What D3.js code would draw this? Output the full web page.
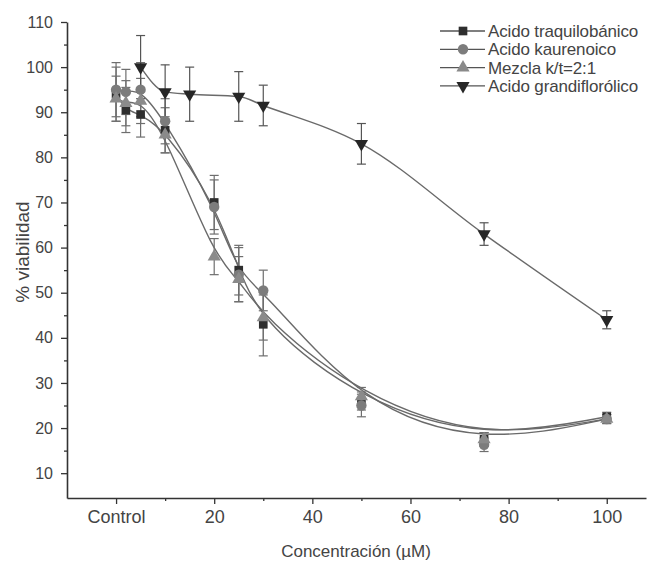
<!DOCTYPE html>
<html>
<head>
<meta charset="utf-8">
<script src="https://cdn.jsdelivr.net/npm/d3@7"></script>
<style>
  body { margin: 0; background: #fff; }
  #visualization { width: 649px; height: 565px; }
  text { font-family: "Liberation Sans", Arial, sans-serif; fill: #444; }
</style>
</head>
<body>
<div id="visualization"></div>
<script>
// Concentrations (0 = Control)
const concA = [0, 2, 5, 10, 20, 25, 30, 50, 75, 100];
const concG = [5, 10, 15, 25, 30, 50, 75, 100];

// % viability and error bars
const traquilobanico = [94, 90.5, 89.5, 86, 70, 55, 43, 26, 17.5, 22.5];
const traquilobanicoErr = [6, 5, 5, 5, 6, 5.5, 7, 2, 1.5, 1];
const kaurenoico = [95, 94.5, 95, 88, 69, 54, 50.5, 25, 16.3, 22];
const kaurenoicoErr = [6, 5, 6, 5, 6, 6, 4.5, 2.5, 1.5, 1];
const mezcla = [93, 92, 92.5, 85, 58, 53, 44.5, 27, 17.5, 22];
const mezclaErr = [5, 5, 5, 4, 4, 5, 5, 2, 1.5, 1];
const grandiflorolico = [100, 94.5, 94, 93.5, 91.5, 83, 63, 44];
const grandiflorolicoErr = [7, 6, 6, 5.5, 4.5, 4.5, 2.5, 2];

const xMajor = [0, 20, 40, 60, 80, 100];
const xMinor = [10, 30, 50, 70, 90];
const yMajor = [10, 20, 30, 40, 50, 60, 70, 80, 90, 100, 110];
const yMinor = [15, 25, 35, 45, 55, 65, 75, 85, 95, 105];

const seriesNames = ['Acido traquilobánico', 'Acido kaurenoico', 'Mezcla k/t=2:1', 'Acido grandiflorólico'];

const width = 649;
const height = 565;

const svg = d3.select('#visualization')
  .append('svg')
  .attr('width', width)
  .attr('height', height);

const x = d3.scaleLinear().domain([-10, 108]).range([67, 646]);
const y = d3.scaleLinear().domain([4.5, 110]).range([498, 22]);

const series = [
  { name: seriesNames[0], xs: concA, vals: traquilobanico, err: traquilobanicoErr, shape: 'square', color: '#2e2e2e', curve: d3.curveBasis },
  { name: seriesNames[1], xs: concA, vals: kaurenoico, err: kaurenoicoErr, shape: 'circle', color: '#7c7c7c', curve: d3.curveBasis },
  { name: seriesNames[2], xs: concA, vals: mezcla, err: mezclaErr, shape: 'triangle', color: '#8a8a8a', curve: d3.curveBasis },
  { name: seriesNames[3], xs: concG, vals: grandiflorolico, err: grandiflorolicoErr, shape: 'down', color: '#262626', curve: d3.curveMonotoneX }
];

function markerPath(shape) {
  if (shape === 'square') return d3.symbol(d3.symbolSquare, 75)();
  if (shape === 'circle') return d3.symbol(d3.symbolCircle, 85)();
  return d3.symbol(d3.symbolTriangle, 75)();
}

function drawMarker(g, shape, color, cx, cy) {
  g.append('path')
    .attr('d', markerPath(shape))
    .attr('transform', `translate(${cx},${cy})` + (shape === 'down' ? ' rotate(180)' : ''))
    .attr('fill', color);
}

// Axes
const xAxis = svg.append('g')
  .attr('transform', `translate(0,${y(4.5)})`)
  .call(d3.axisBottom(x).tickValues(xMajor).tickSize(6).tickSizeOuter(0).tickPadding(6)
    .tickFormat(d => d === 0 ? 'Control' : d));
xAxis.append('g')
  .call(d3.axisBottom(x).tickValues(xMinor).tickSize(3).tickFormat(''))
  .select('.domain').remove();

const yAxis = svg.append('g')
  .attr('transform', `translate(${x(-10)},0)`)
  .call(d3.axisLeft(y).tickValues(yMajor).tickSize(6).tickSizeOuter(0).tickPadding(8));
yAxis.append('g')
  .call(d3.axisLeft(y).tickValues(yMinor).tickSize(3).tickFormat(''))
  .select('.domain').remove();

svg.selectAll('.domain').attr('stroke', '#333').attr('stroke-width', 1.6);
svg.selectAll('.tick line').attr('stroke', '#333').attr('stroke-width', 1.3);
xAxis.selectAll('.tick text').style('font-size', '18px').style('fill', '#444');
yAxis.selectAll('.tick text').style('font-size', '16px').style('fill', '#444');

svg.append('text')
  .attr('x', 356)
  .attr('y', 557)
  .attr('text-anchor', 'middle')
  .style('font-size', '17px')
  .text('Concentración (µM)');

svg.append('text')
  .attr('transform', `translate(29,252) rotate(-90)`)
  .attr('text-anchor', 'middle')
  .style('font-size', '19px')
  .text('% viabilidad');

// Curves
const plot = svg.append('g');
series.forEach(s => {
  const pts = s.xs.map((c, i) => [c, s.vals[i]]);
  plot.append('path')
    .datum(pts)
    .attr('fill', 'none')
    .attr('stroke', '#6a6a6a')
    .attr('stroke-width', 1.4)
    .attr('d', d3.line().x(d => x(d[0])).y(d => y(d[1])).curve(s.curve));
});

// Error bars
series.forEach(s => {
  const g = plot.append('g').attr('stroke', s.shape === 'down' ? '#555' : '#6e6e6e').attr('stroke-width', 1.2);
  s.xs.forEach((c, i) => {
    const cx = x(c);
    const top = y(s.vals[i] + s.err[i]);
    const bot = y(s.vals[i] - s.err[i]);
    g.append('line').attr('x1', cx).attr('x2', cx).attr('y1', top).attr('y2', bot);
    g.append('line').attr('x1', cx - 4.5).attr('x2', cx + 4.5).attr('y1', top).attr('y2', top);
    g.append('line').attr('x1', cx - 4.5).attr('x2', cx + 4.5).attr('y1', bot).attr('y2', bot);
  });
});

// Markers
series.forEach(s => {
  const g = plot.append('g');
  s.xs.forEach((c, i) => drawMarker(g, s.shape, s.color, x(c), y(s.vals[i])));
});

// Legend
const legend = svg.append('g').attr('transform', 'translate(440,31)');
series.forEach((s, i) => {
  const row = legend.append('g').attr('transform', `translate(0,${i * 18.3})`);
  row.append('line').attr('x1', 0).attr('x2', 45).attr('stroke', '#555').attr('stroke-width', 1.3);
  drawMarker(row, s.shape, s.color, 23, 0);
  row.append('text')
    .attr('x', 48)
    .attr('y', 6)
    .style('font-size', '17px')
    .style('letter-spacing', '-0.15px')
    .text(s.name);
});
</script>
</body>
</html>
